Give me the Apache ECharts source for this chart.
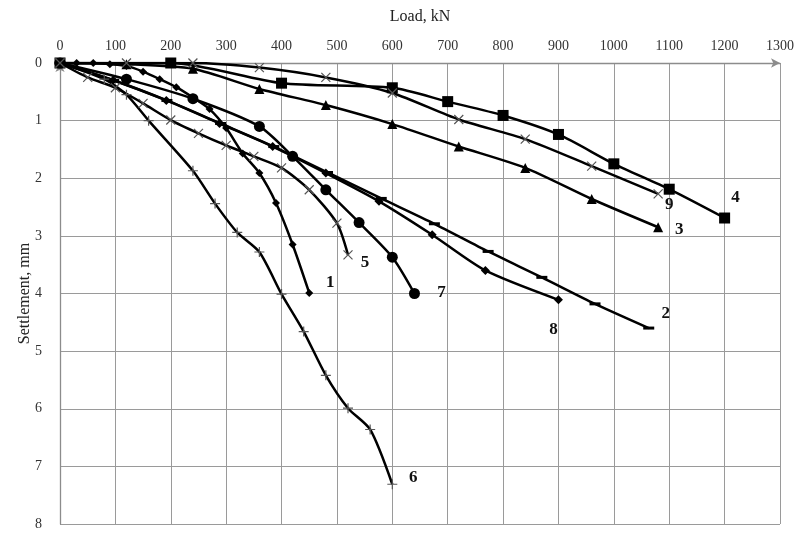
<!DOCTYPE html>
<html>
<head>
<meta charset="utf-8">
<script src="https://cdn.jsdelivr.net/npm/echarts@6/dist/echarts.min.js"></script>
<style>
  html, body { margin: 0; padding: 0; background: #fff; }
  #chart { width: 798px; height: 533px; }
</style>
</head>
<body>
<div id="chart"></div>
<script>
// load (kN) / settlement (mm) pairs, one set per curve
var load1 = [0, 30, 60, 90, 120, 150, 180, 210, 240, 270, 300, 330, 360, 390, 420, 450]
var settle1 = [0, 0, 0, 0.02, 0.05, 0.15, 0.28, 0.42, 0.6, 0.8, 1.13, 1.57, 1.91, 2.43, 3.15, 3.99]

var load2 = [0, 97, 193, 290, 386, 483, 580, 676, 773, 870, 966, 1063]
var settle2 = [0, 0.3, 0.65, 1.05, 1.45, 1.9, 2.35, 2.79, 3.27, 3.72, 4.18, 4.6]

var load3 = [0, 120, 240, 360, 480, 600, 720, 840, 960, 1080]
var settle3 = [0, 0.02, 0.1, 0.45, 0.73, 1.06, 1.45, 1.82, 2.36, 2.85]

var load4 = [0, 200, 400, 600, 700, 800, 900, 1000, 1100, 1200]
var settle4 = [0, 0, 0.35, 0.43, 0.67, 0.91, 1.24, 1.75, 2.19, 2.69]

var load5 = [0, 50, 100, 150, 200, 250, 300, 350, 400, 450, 500, 520]
var settle5 = [0, 0.25, 0.43, 0.7, 0.99, 1.22, 1.43, 1.62, 1.82, 2.2, 2.78, 3.33]

var load6 = [0, 80, 120, 160, 240, 280, 320, 360, 400, 440, 480, 520, 560, 600]
var settle6 = [0, 0.28, 0.55, 1.0, 1.87, 2.44, 2.94, 3.28, 4.01, 4.66, 5.42, 5.99, 6.36, 7.31]

var load7 = [0, 120, 240, 360, 420, 480, 540, 600, 640]
var settle7 = [0, 0.28, 0.62, 1.1, 1.62, 2.2, 2.77, 3.37, 4.0]

var load8 = [0, 96, 192, 288, 384, 480, 576, 672, 768, 900]
var settle8 = [0, 0.3, 0.65, 1.05, 1.45, 1.91, 2.4, 2.98, 3.6, 4.11]

var load9 = [0, 120, 240, 360, 480, 600, 720, 840, 960, 1080]
var settle9 = [0, 0, 0, 0.08, 0.25, 0.52, 0.98, 1.32, 1.79, 2.27]

var curveNames = ['1', '2', '3', '4', '5', '6', '7', '8', '9']
var xTicks = [0, 100, 200, 300, 400, 500, 600, 700, 800, 900, 1000, 1100, 1200, 1300]
var yTicks = [0, 1, 2, 3, 4, 5, 6, 7, 8]

var loads = [load1, load2, load3, load4, load5, load6, load7, load8, load9]
var settles = [settle1, settle2, settle3, settle4, settle5, settle6, settle7, settle8, settle9]

var crossPath = 'path://M0,0L10,10M10,0L0,10'
var plusPath = 'path://M5,0L5,10M0,5L10,5'

// marker look and where each curve's number sits next to its last point
var styles = [
  { symbol: 'diamond', size: 8, off: [21, -10] },
  { symbol: 'rect', size: [11, 3], off: [17, -14] },
  { symbol: 'triangle', size: 10, off: [21, 2] },
  { symbol: 'rect', size: 11, off: [11, -20] },
  { symbol: crossPath, size: 9, off: [17, 8], thin: true },
  { symbol: plusPath, size: 10, off: [21, -7], thin: true },
  { symbol: 'circle', size: 11, off: [27, -1] },
  { symbol: 'diamond', size: 9, off: [-5, 30] },
  { symbol: crossPath, size: 9, off: [11, 11], thin: true }
]

var series = curveNames.map(function (name, i) {
  var st = styles[i]
  var data = loads[i].map(function (x, j) {
    var item = { value: [x, settles[i][j]] }
    if (j === loads[i].length - 1) {
      item.label = {
        show: true,
        position: 'inside',
        formatter: name,
        offset: st.off,
        fontFamily: 'Liberation Serif',
        fontWeight: 'bold',
        fontSize: 17,
        color: '#111'
      }
    }
    return item
  })
  return {
    name: name,
    type: 'line',
    smooth: 0.25,
    symbol: st.symbol,
    symbolSize: st.size,
    showAllSymbol: true,
    data: data,
    lineStyle: { color: '#000', width: 2.5 },
    itemStyle: st.thin
      ? { color: 'rgba(0,0,0,0)', borderColor: '#555', borderWidth: 1.2 }
      : { color: '#000' },
    emphasis: { disabled: true },
    z: 3
  }
})

var chart = echarts.init(document.getElementById('chart'))
chart.setOption({
  animation: false,
  backgroundColor: '#fff',
  grid: { left: 60, top: 63, right: 18, bottom: 9, containLabel: false },
  xAxis: {
    type: 'value',
    position: 'top',
    min: xTicks[0],
    max: xTicks[xTicks.length - 1],
    interval: 100,
    name: 'Load, kN',
    nameLocation: 'middle',
    nameGap: 38,
    nameMoveOverlap: false,
    nameTextStyle: { fontFamily: 'Liberation Serif', fontSize: 16, color: '#222' },
    axisLine: { show: true, symbol: ['none', 'arrow'], symbolSize: [7, 9], lineStyle: { color: '#8c8c8c', width: 1.3 } },
    axisTick: { show: false },
    axisLabel: {
      fontFamily: 'Liberation Serif', fontSize: 14, color: '#333', margin: 10,
      formatter: function (v) { return String(v) }
    },
    splitLine: { show: true, lineStyle: { color: '#9a9a9a', width: 1 } }
  },
  yAxis: {
    type: 'value',
    inverse: true,
    min: yTicks[0],
    max: yTicks[yTicks.length - 1],
    interval: 1,
    name: 'Settlement, mm',
    nameLocation: 'middle',
    nameGap: 27,
    nameMoveOverlap: false,
    nameRotate: 90,
    nameTextStyle: { fontFamily: 'Liberation Serif', fontSize: 16, color: '#222' },
    axisLine: { show: true, symbol: ['none', 'arrow'], symbolSize: [7, 9], lineStyle: { color: '#8c8c8c', width: 1.3 } },
    axisTick: { show: false },
    axisLabel: { fontFamily: 'Liberation Serif', fontSize: 14, color: '#333', margin: 18 },
    splitLine: { show: true, lineStyle: { color: '#9a9a9a', width: 1 } }
  },
  series: series
})
</script>
</body>
</html>
